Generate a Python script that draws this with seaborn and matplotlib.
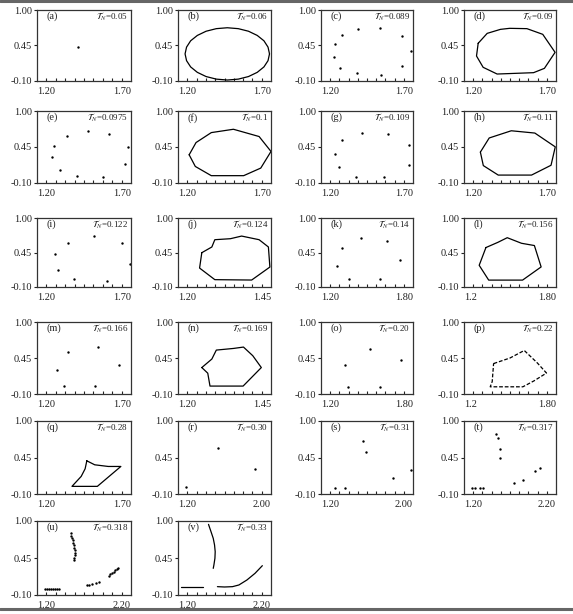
import matplotlib
matplotlib.use('Agg')
import matplotlib.pyplot as plt
import seaborn as sns
import pandas as pd
from matplotlib.lines import Line2D
from matplotlib.ticker import FixedLocator

sns.set_theme(style='white')
plt.rcParams['font.family'] = ['Liberation Serif', 'DejaVu Serif']
plt.rcParams['mathtext.fontset'] = 'stix'

# ---------------- data ----------------
A_X = [1.42]
A_Y = [0.42]
B_X = [1.692, 1.684, 1.662, 1.626, 1.579, 1.524, 1.465, 1.406, 1.351, 1.304, 1.268, 1.246,
       1.238, 1.246, 1.268, 1.304, 1.351, 1.406, 1.465, 1.524, 1.579, 1.626, 1.662, 1.684]
B_Y = [0.320, 0.425, 0.523, 0.606, 0.671, 0.711, 0.725, 0.711, 0.671, 0.606, 0.523, 0.425,
       0.320, 0.215, 0.118, 0.034, -0.031, -0.071, -0.085, -0.071, -0.031, 0.034, 0.118, 0.215]
C_X = [1.402, 1.518, 1.638, 1.316, 1.277, 1.688, 1.273, 1.305, 1.641, 1.395, 1.525]
C_Y = [0.706, 0.716, 0.602, 0.613, 0.468, 0.365, 0.277, 0.107, 0.132, 0.019, -0.002]
D_X = [1.277, 1.326, 1.398, 1.448, 1.542, 1.628, 1.695, 1.637, 1.578, 1.380, 1.304, 1.268]
D_Y = [0.484, 0.638, 0.700, 0.716, 0.711, 0.623, 0.344, 0.096, 0.029, 0.008, 0.112, 0.287]
E_X = [1.470, 1.584, 1.357, 1.289, 1.684, 1.282, 1.670, 1.320, 1.413, 1.550]
E_Y = [0.701, 0.645, 0.620, 0.463, 0.447, 0.290, 0.194, 0.103, 0.006, -0.004]
F_X = [1.260, 1.293, 1.379, 1.553, 1.645, 1.700, 1.636, 1.498, 1.379, 1.297]
F_Y = [0.331, 0.153, 0.012, 0.012, 0.128, 0.382, 0.610, 0.721, 0.670, 0.518]
G_X = [1.425, 1.562, 1.314, 1.680, 1.276, 1.680, 1.296, 1.388, 1.541]
G_Y = [0.663, 0.648, 0.563, 0.478, 0.342, 0.181, 0.146, -0.005, -0.005]
H_X = [1.289, 1.305, 1.386, 1.567, 1.673, 1.696, 1.585, 1.457, 1.337]
H_Y = [0.372, 0.166, 0.021, 0.021, 0.171, 0.452, 0.663, 0.698, 0.588]
I_X = [1.504, 1.365, 1.653, 1.295, 1.695, 1.311, 1.398, 1.573]
I_Y = [0.708, 0.607, 0.596, 0.426, 0.267, 0.166, 0.022, 0.001]
J_X = [1.264, 1.258, 1.299, 1.398, 1.447, 1.443, 1.418, 1.371, 1.341, 1.299, 1.291]
J_Y = [0.447, 0.202, 0.017, 0.011, 0.218, 0.538, 0.654, 0.712, 0.670, 0.654, 0.538]
K_X = [1.462, 1.629, 1.340, 1.716, 1.307, 1.382, 1.582]
K_Y = [0.675, 0.638, 0.518, 0.335, 0.230, 0.026, 0.026]
L_X = [1.343, 1.299, 1.361, 1.582, 1.703, 1.659, 1.575, 1.482, 1.421]
L_Y = [0.529, 0.246, 0.010, 0.010, 0.220, 0.561, 0.597, 0.686, 0.612]
M_X = [1.527, 1.366, 1.635, 1.306, 1.344, 1.507]
M_Y = [0.617, 0.541, 0.339, 0.263, 0.016, 0.016]
N_X = [1.264, 1.280, 1.286, 1.375, 1.424, 1.401, 1.376, 1.349, 1.303, 1.291]
N_Y = [0.304, 0.218, 0.021, 0.021, 0.304, 0.485, 0.617, 0.596, 0.571, 0.434]
O_X = [1.521, 1.724, 1.359, 1.375, 1.582]
O_Y = [0.580, 0.415, 0.345, 0.010, 0.010]
P_X = [1.393, 1.500, 1.593, 1.678, 1.738, 1.656, 1.584, 1.371, 1.384]
P_Y = [0.365, 0.450, 0.565, 0.375, 0.220, 0.100, 0.010, 0.010, 0.090]
Q_X = [1.465, 1.507, 1.579, 1.646, 1.521, 1.386, 1.435, 1.456]
Q_Y = [0.400, 0.340, 0.315, 0.315, 0.015, 0.015, 0.165, 0.280]
R_X = [1.543, 1.863, 1.271]
R_Y = [0.590, 0.275, 0.005]
S_X = [1.566, 1.591, 1.986, 1.829, 1.323, 1.406]
S_Y = [0.700, 0.530, 0.260, 0.140, -0.010, -0.010]
T_X = [1.551, 1.569, 1.590, 1.590, 2.023, 1.973, 1.838, 1.739, 1.292, 1.317, 1.374, 1.409]
T_Y = [0.805, 0.740, 0.575, 0.450, 0.290, 0.240, 0.105, 0.065, -0.010, -0.010, -0.010, -0.010]
U_X = [1.557, 1.565, 1.572, 1.579, 1.586, 1.593, 1.597, 1.601, 1.601, 1.601, 1.597, 1.593,
       1.283, 1.305, 1.326, 1.348, 1.370, 1.391, 1.413, 1.435,
       1.731, 1.756, 1.781, 1.825, 1.861, 1.962, 1.980, 1.998, 2.016, 2.034, 2.052, 2.066]
U_Y = [0.817, 0.782, 0.747, 0.713, 0.678, 0.643, 0.604, 0.564, 0.524, 0.490, 0.455, 0.420,
       -0.016, -0.016, -0.016, -0.016, -0.016, -0.016, -0.016, -0.016,
       0.049, 0.054, 0.059, 0.073, 0.088, 0.187, 0.207, 0.227, 0.247, 0.267, 0.286, 0.301]
V1_X = [1.528, 1.555, 1.579, 1.593, 1.600, 1.597, 1.586, 1.579]
V1_Y = [0.950, 0.841, 0.742, 0.643, 0.544, 0.445, 0.346, 0.296]
V2_X = [1.234, 1.466]
V2_Y = [0.024, 0.024]
V3_X = [1.624, 1.700, 1.786, 1.855, 1.941, 2.028, 2.107]
V3_Y = [0.024, 0.019, 0.024, 0.049, 0.123, 0.222, 0.336]

LETTERS = list('abcdefghijklmnopqrstuv')
TN_LABELS = ['0.05', '0.06', '0.089', '0.09', '0.0975', '0.1', '0.109', '0.11',
             '0.122', '0.124', '0.14', '0.156', '0.166', '0.169', '0.20', '0.22',
             '0.28', '0.30', '0.31', '0.317', '0.318', '0.33']
XMIN_LABELS = ['1.20'] * 11 + ['1.2'] + ['1.20'] * 3 + ['1.2'] + ['1.20'] * 6
XMAX_LABELS = ['1.70'] * 9 + ['1.45', '1.80', '1.80', '1.70', '1.45', '1.80', '1.80',
                              '1.70', '2.00', '2.00', '2.20', '2.20', '2.20']
KINDS = ['pts', 'loop', 'pts', 'loop', 'pts', 'loop', 'pts', 'loop', 'pts', 'loop',
         'pts', 'loop', 'pts', 'loop', 'pts', 'dash', 'loop', 'pts', 'pts', 'pts',
         'pts', 'curves']
SERIES = [(A_X, A_Y), (B_X, B_Y), (C_X, C_Y), (D_X, D_Y), (E_X, E_Y), (F_X, F_Y),
          (G_X, G_Y), (H_X, H_Y), (I_X, I_Y), (J_X, J_Y), (K_X, K_Y), (L_X, L_Y),
          (M_X, M_Y), (N_X, N_Y), (O_X, O_Y), (P_X, P_Y), (Q_X, Q_Y), (R_X, R_Y),
          (S_X, S_Y), (T_X, T_Y), (U_X, U_Y),
          [(V1_X, V1_Y), (V2_X, V2_Y), (V3_X, V3_Y)]]
Y_TICKS = [-0.10, 0.45, 1.00]
Y_TICK_LABELS = ['-0.10', '0.45', '1.00']

# ---------------- layout ----------------
W, H = 573, 614
fig = plt.figure(figsize=(W / 100, H / 100), dpi=100)
fig.patch.set_facecolor('white')
ROWS = [(10, 81), (111, 183), (218, 287), (322, 394), (421, 494), (521, 595)]
COLS = [(37, 131), (178, 271), (321, 413), (464, 556)]

fig.add_artist(Line2D([0, 1], [1 - 1 / H, 1 - 1 / H], color='#666666', lw=2.2,
                      transform=fig.transFigure))
fig.add_artist(Line2D([0, 1], [1 - 609 / H, 1 - 609 / H], color='#666666', lw=2.2,
                      transform=fig.transFigure))

for i, letter in enumerate(LETTERS):
    r, c = divmod(i, 4)
    t, b = ROWS[r]
    l, rr = COLS[c]
    ax = fig.add_axes([l / W, 1 - b / H, (rr - l) / W, (b - t) / H])
    xmin = float(XMIN_LABELS[i]); xmax = float(XMAX_LABELS[i])
    kind = KINDS[i]
    data = SERIES[i]
    if kind == 'pts':
        df = pd.DataFrame({'x': data[0], 'y': data[1]})
        sns.scatterplot(data=df, x='x', y='y', ax=ax, color='black', s=3,
                        linewidth=0, clip_on=False, legend=False)
    elif kind in ('loop', 'dash'):
        xs = list(data[0]) + [data[0][0]]
        ys = list(data[1]) + [data[1][0]]
        df = pd.DataFrame({'x': xs, 'y': ys, 'o': range(len(xs))})
        sns.lineplot(data=df, x='x', y='y', ax=ax, sort=False, estimator=None,
                     color='black', lw=0.9, clip_on=False,
                     linestyle='--' if kind == 'dash' else '-',
                     dashes=False if kind == 'loop' else True)
        if kind == 'dash':
            ax.lines[-1].set_dashes([3, 1.5])
    else:
        for cx, cy in data:
            df = pd.DataFrame({'x': cx, 'y': cy})
            sns.lineplot(data=df, x='x', y='y', ax=ax, sort=False, estimator=None,
                         color='black', lw=0.9, clip_on=False)

    ax.set_xlim(xmin, xmax)
    ax.set_ylim(-0.10, 1.00)
    ax.set_xlabel(''); ax.set_ylabel('')
    ax.set_yticks(Y_TICKS)
    ax.set_yticklabels(Y_TICK_LABELS)
    ax.set_xticks([xmin, xmax])
    ax.set_xticklabels([XMIN_LABELS[i], XMAX_LABELS[i]])
    labs = ax.get_xticklabels()
    labs[0].set_horizontalalignment('left')
    labs[1].set_horizontalalignment('right')
    step = (xmax - xmin) / 10
    ax.xaxis.set_minor_locator(FixedLocator([xmin + k * step for k in range(1, 10)]))
    ax.tick_params(axis='x', which='major', length=0, pad=4, labelsize=7.5,
                   colors='#222222')
    ax.tick_params(axis='x', which='minor', length=2, direction='in', width=0.8,
                   color='#222222', bottom=True)
    ax.tick_params(axis='y', which='major', length=2, direction='out', width=0.8,
                   pad=1.5, labelsize=7.5, colors='#222222', left=True)
    for sp in ax.spines.values():
        sp.set_color('#333333')
        sp.set_linewidth(0.9)
    ax.text(0.1, 0.975, '(' + letter + ')', transform=ax.transAxes, ha='left',
            va='top', fontsize=7.5, color='#222222')
    ax.text(0.97, 0.985, r'$\mathcal{T}_N$=' + TN_LABELS[i], transform=ax.transAxes,
            ha='right', va='top', fontsize=6.5, color='#222222')

fig.savefig('out.png', dpi=100, facecolor='white')
